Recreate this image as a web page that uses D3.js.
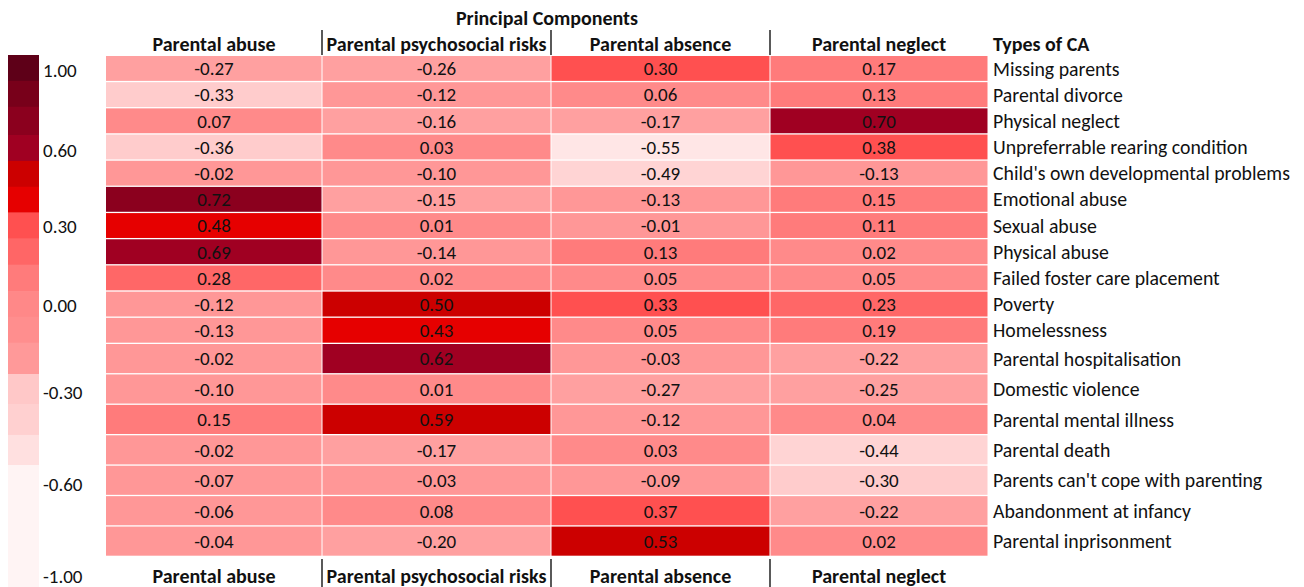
<!DOCTYPE html>
<html>
<head>
<meta charset="utf-8">
<script src="https://cdn.jsdelivr.net/npm/d3@7/dist/d3.min.js"></script>
<style>
  html, body { margin: 0; padding: 0; background: #fff; }
  svg { display: block; font-family: Carlito, Calibri, Lato, "Noto Sans", sans-serif; }
</style>
</head>
<body>
<svg id="chart" width="1304" height="587"></svg>
<script>
// ---------- data ----------
const components = ["Parental abuse", "Parental psychosocial risks", "Parental absence", "Parental neglect"];
const typesOfCA = [
  "Missing parents", "Parental divorce", "Physical neglect", "Unpreferrable rearing condition",
  "Child's own developmental problems", "Emotional abuse", "Sexual abuse", "Physical abuse",
  "Failed foster care placement", "Poverty", "Homelessness", "Parental hospitalisation",
  "Domestic violence", "Parental mental illness", "Parental death",
  "Parents can't cope with parenting", "Abandonment at infancy", "Parental inprisonment"
];
const parentalAbuse        = [-0.27, -0.33, 0.07, -0.36, -0.02, 0.72, 0.48, 0.69, 0.28, -0.12, -0.13, -0.02, -0.10, 0.15, -0.02, -0.07, -0.06, -0.04];
const parentalPsychosocial = [-0.26, -0.12, -0.16, 0.03, -0.10, -0.15, 0.01, -0.14, 0.02, 0.50, 0.43, 0.62, 0.01, 0.59, -0.17, -0.03, 0.08, -0.20];
const parentalAbsence      = [0.30, 0.06, -0.17, -0.55, -0.49, -0.13, -0.01, 0.13, 0.05, 0.33, 0.05, -0.03, -0.27, -0.12, 0.03, -0.09, 0.37, 0.53];
const parentalNeglect      = [0.17, 0.13, 0.70, 0.38, -0.13, 0.15, 0.11, 0.02, 0.05, 0.23, 0.19, -0.22, -0.25, 0.04, -0.44, -0.30, -0.22, 0.02];
const seriesValues = [parentalAbuse, parentalPsychosocial, parentalAbsence, parentalNeglect];

const legendTicks = [1.00, 0.60, 0.30, 0.00, -0.30, -0.60, -1.00];
const legendEdges = [1.075, 0.946, 0.816, 0.675, 0.557, 0.455, 0.353, 0.252, 0.153, 0.051, -0.041, -0.13, -0.238, -0.339, -0.44, -0.538, -1.048];
const legendColors = ["#5e0018", "#78001a", "#8b001e", "#a00022", "#cc0000", "#e60000", "#ff5050", "#ff6666",
                      "#ff7b7b", "#ff8888", "#ff8e8e", "#ff9999", "#ffc8c8", "#ffd0d0", "#ffe0e0", "#fff4f4"];

// colour thresholds for cells
const cellThresholds = [-0.5, -0.4, -0.28, -0.14, 0, 0.1, 0.2, 0.3, 0.4, 0.5, 0.6, 0.705, 0.8, 0.9];
const cellColors = ["#ffe6e6", "#ffd4d4", "#ffcccc", "#ffa0a0", "#ff9797", "#ff8a8a", "#ff7b7b", "#ff6767",
                    "#ff5050", "#e60000", "#cc0000", "#a00022", "#8b001e", "#78001a", "#5e0018"];

// ---------- layout ----------
const svg = d3.select("#chart");
const NUM_FS = 19;
const LABEL_FS = 19.8;
const HEAD_FS = 20;
const textColor = "#111";
const fmt = v => d3.format(".2f")(v).replace("\u2212", "-");

const x = d3.scaleLinear().domain([0, 1, 2, 3, 4]).range([106, 322, 551, 770, 988]);
const y = d3.scaleLinear().domain([0, 11, 18]).range([56, 344, 557]);
const color = d3.scaleThreshold().domain(cellThresholds).range(cellColors);
const gap = 1.3;

const cells = [];
seriesValues.forEach((vals, c) => vals.forEach((v, r) => cells.push({ c, r, v })));

const g = svg.append("g");
g.selectAll("rect.cell").data(cells).join("rect")
  .attr("class", "cell")
  .attr("x", d => x(d.c) + (d.c > 0 ? 0.5 : 0))
  .attr("y", d => y(d.r))
  .attr("width", d => x(d.c + 1) - x(d.c) - (d.c > 0 ? 0.5 : 0) - 0.5)
  .attr("height", d => y(d.r + 1) - y(d.r) - gap)
  .attr("fill", d => color(d.v));

g.selectAll("text.val").data(cells).join("text")
  .attr("class", "val")
  .attr("x", d => (x(d.c) + x(d.c + 1)) / 2)
  .attr("y", d => (y(d.r) + y(d.r + 1) - gap) / 2)
  .attr("dy", "0.36em")
  .attr("text-anchor", "middle")
  .attr("font-size", NUM_FS)
  .attr("fill", textColor)
  .text(d => fmt(d.v));

// row labels
g.selectAll("text.row").data(typesOfCA).join("text")
  .attr("class", "row")
  .attr("x", 993)
  .attr("y", (d, i) => (y(i) + y(i + 1) - gap) / 2)
  .attr("dy", "0.36em")
  .attr("font-size", LABEL_FS)
  .attr("fill", textColor)
  .text(d => d);

// headers
svg.append("text")
  .attr("x", 547).attr("y", 18).attr("dy", "0.36em")
  .attr("text-anchor", "middle").attr("font-weight", "bold")
  .attr("font-size", HEAD_FS).attr("fill", textColor)
  .text("Principal Components");

[44, 576].forEach(cy => {
  svg.selectAll(null).data(components).join("text")
    .attr("x", (d, i) => (x(i) + x(i + 1)) / 2)
    .attr("y", cy).attr("dy", "0.36em")
    .attr("text-anchor", "middle").attr("font-weight", "bold")
    .attr("font-size", HEAD_FS).attr("fill", textColor)
    .text(d => d);
});
svg.append("text")
  .attr("x", 993).attr("y", 44).attr("dy", "0.36em")
  .attr("font-weight", "bold").attr("font-size", HEAD_FS).attr("fill", textColor)
  .text("Types of CA");

// header separators
[[30, 55], [559, 587]].forEach(([y0, y1]) => {
  svg.selectAll(null).data([1, 2, 3]).join("line")
    .attr("x1", d => x(d)).attr("x2", d => x(d))
    .attr("y1", y0).attr("y2", y1)
    .attr("stroke", "#000").attr("stroke-width", 1.3);
});

// legend
const ly = d3.scaleLinear().domain(legendTicks).range([70, 150, 226, 305, 392, 484, 576]);
const legendSegs = legendColors.map((col, i) => ({ col, a: legendEdges[i], b: legendEdges[i + 1] }));
svg.selectAll("rect.leg").data(legendSegs).join("rect")
  .attr("class", "leg")
  .attr("x", 8).attr("width", 31)
  .attr("y", d => ly(d.a))
  .attr("height", d => ly(d.b) - ly(d.a) + 0.3)
  .attr("fill", d => d.col);
svg.selectAll("text.legt").data(legendTicks).join("text")
  .attr("class", "legt")
  .attr("x", 43).attr("y", d => ly(d)).attr("dy", "0.36em")
  .attr("font-size", NUM_FS).attr("fill", textColor)
  .text(d => fmt(d));
</script>
</body>
</html>
